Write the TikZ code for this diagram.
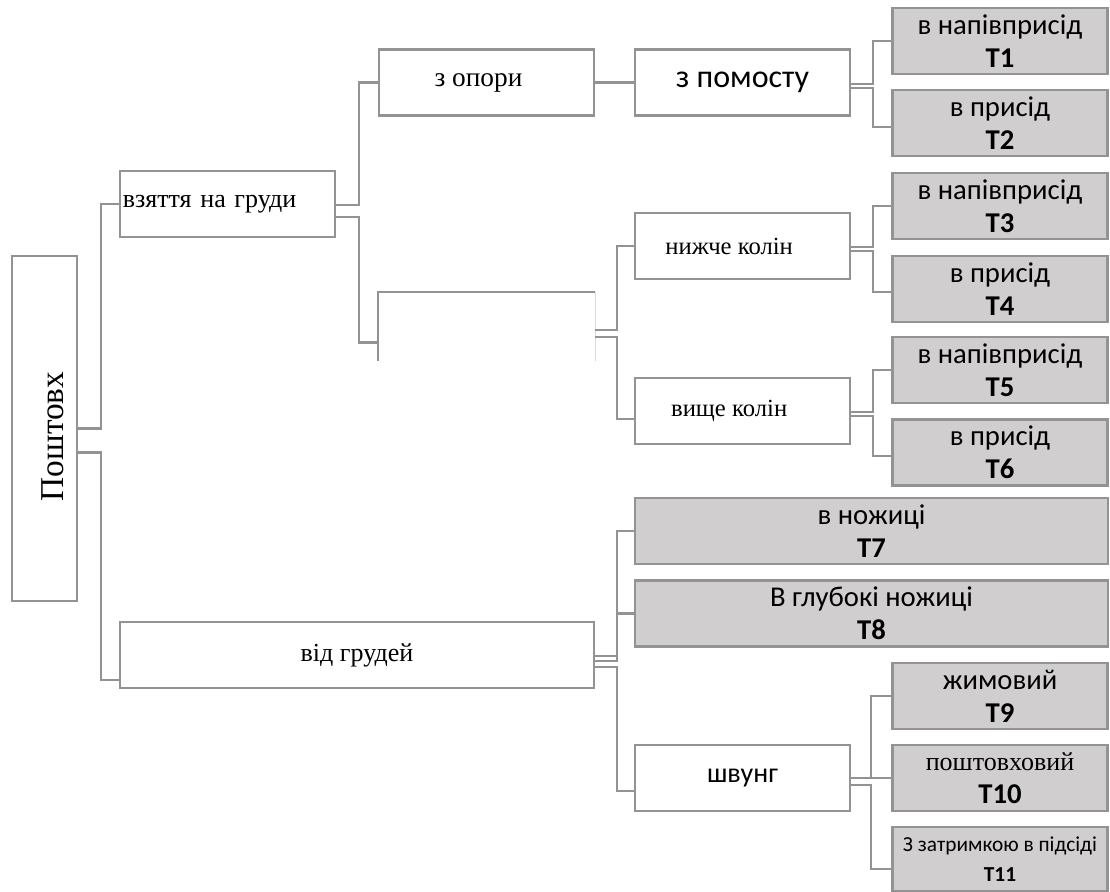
\documentclass[tikz,border=0pt]{standalone}
\usepackage{fontspec}
\usepackage{graphicx}
\setmainfont{Liberation Serif}
\newfontfamily\calibri{Carlito}
\usetikzlibrary{calc}
\definecolor{linegray}{HTML}{939393}
\definecolor{boxgray}{HTML}{D0CECF}
\begin{document}
\begin{tikzpicture}[
    x=0.75pt, y=-0.75pt,
    box/.style={
        draw=linegray,
        line width=1.8pt,
        minimum width=161.25pt,
        minimum height=49.5pt,
        inner sep=2pt,
        font=\fontsize{19.5}{21}\selectfont
    },
    sbox/.style={box, font=\calibri\fontsize{21}{23}\selectfont},
    tbox/.style={
        box,
        fill=boxgray,
        align=center,
        font=\calibri\fontsize{21.5}{25}\selectfont
    },
    link/.style={draw=linegray, line width=1.6pt}
]
\useasboundingbox (0,0) rectangle (1110,892);

% Корінь
\node[box, minimum width=48.75pt, minimum height=258.75pt] (root) at (44.5,428.5)
    {\hspace*{12pt}\rotatebox{90}{\fontsize{25}{27}\selectfont Поштовх\hspace*{12pt}}};

% Другий рівень
\node[box, text width=157pt, align=left] (vzyat) at (227.5,204) {взяття на груди};
\node[box, minimum width=355.5pt] (vidgrud) at (357,655) {від грудей};

% Третій рівень
\node[box, font=\fontsize{20.5}{22}\selectfont] (zopory) at (486.5,82.5) {з опори\hspace*{12pt}};
\node[box, draw=none, minimum height=50.25pt] (blank) at (486.5,326.5) {};

% Четвертий рівень
\node[sbox, font=\calibri\fontsize{24}{25}\selectfont] (zpomostu) at (742.5,82.5) {з помосту};
\node[box, font=\fontsize{18.5}{20}\selectfont] (nyzhche) at (742.5,246) {нижче колін\hspace*{20pt}};
\node[box, font=\fontsize{18.5}{20}\selectfont] (vyshche) at (742.5,411) {вище колін\hspace*{20pt}};
\node[sbox] (shvung) at (742.5,778) {швунг};
\node[tbox, minimum width=354.75pt] (t7) at (871.5,531) {в ножиці\\\textbf{Т7}};
\node[tbox, minimum width=354.75pt] (t8) at (871.5,613.5) {В глубокі ножиці\\\textbf{Т8}};

% Техніки
\node[tbox] (t1) at (1000,41) {в напівприсід\\\textbf{Т1}};
\node[tbox] (t2) at (1000,123) {в присід\\\textbf{Т2}};
\node[tbox] (t3) at (1000,206) {в напівприсід\\\textbf{Т3}};
\node[tbox] (t4) at (1000,289) {в присід\\\textbf{Т4}};
\node[tbox] (t5) at (1000,370) {в напівприсід\\\textbf{Т5}};
\node[tbox] (t6) at (1000,452.5) {в присід\\\textbf{Т6}};
\node[tbox] (t9) at (1000,696) {жимовий\\\textbf{Т9}};
\node[tbox] (t10) at (1000,778) {{\rmfamily\fontsize{19.5}{21}\selectfont поштовховий}\\\textbf{Т10}};
\node[tbox, minimum height=48pt, font=\calibri\fontsize{16}{23}\selectfont] (t11) at (1000,859)
    {З затримкою в підсіді\\\textbf{Т11}};

% Відкрита рамка
\draw[link, line width=1.8pt] (blank.south west) |- (blank.north east);
\draw[linegray!35, line width=0.6pt] (blank.north east) -- (blank.south east);

% Зв'язки
\draw[link] (root.east) -- ++(23,0) |- (vzyat.west);
\draw[link] ($(root.east)+(0,24)$) -- ++(23,0) |- ($(vidgrud.west)+(0,25)$);

\draw[link] ($(vzyat.east)+(0,1)$) -- ++(23,0) |- (zopory.west);
\draw[link] ($(vzyat.east)+(0,13)$) -- ++(23,0) |- ($(blank.west)+(0,16)$);

\draw[link] (zopory.east) -- (zpomostu.west);

\draw[link] ($(zpomostu.east)+(0,1.5)$) -- ++(22,0) |- (t1.west);
\draw[link] ($(zpomostu.east)+(0,5.5)$) -- ++(22,0) |- ($(t2.west)+(0,4)$);

\draw[link] ($(blank.east)+(0,3.5)$) -- ++(22,0) |- (nyzhche.west);
\draw[link] ($(blank.east)+(0,10.5)$) -- ++(22,0) |- ($(vyshche.west)+(0,8)$);

\draw[link] ($(nyzhche.east)+(0,1)$) -- ++(22,0) |- (t3.west);
\draw[link] ($(nyzhche.east)+(0,5)$) -- ++(22,0) |- ($(t4.west)+(0,3)$);

\draw[link] ($(vyshche.east)+(0,1)$) -- ++(22,0) |- (t5.west);
\draw[link] ($(vyshche.east)+(0,5)$) -- ++(22,0) |- ($(t6.west)+(0,3.5)$);

\draw[link] ($(vidgrud.east)+(0,1)$) -- ++(22,0) |- (t7.west);
\draw[link] ($(vidgrud.east)+(0,6)$) -- ++(22,0) |- (t8.west);
\draw[link] ($(vidgrud.east)+(0,12)$) -- ++(22,0) |- ($(shvung.west)+(0,13)$);

\draw[link] (shvung.east) -- ++(20,0) |- (t9.west);
\draw[link] (shvung.east) -- ++(20,0) |- (t10.west);
\draw[link] ($(shvung.east)+(0,7)$) -- ++(20,0) |- ($(t11.west)+(0,10)$);

\end{tikzpicture}
\end{document}
